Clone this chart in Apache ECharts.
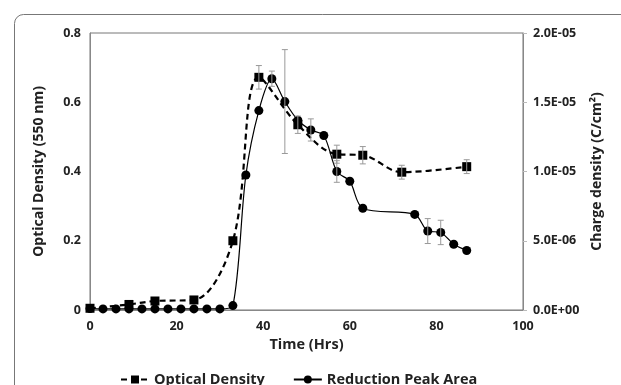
<!DOCTYPE html>
<html>
<head>
<meta charset="utf-8">
<script src="https://cdn.jsdelivr.net/npm/echarts@6/dist/echarts.min.js"></script>
<style>
  html, body { margin: 0; padding: 0; background: #fff; }
  #chart { width: 621px; height: 385px; }
</style>
</head>
<body>
<div id="chart"></div>
<script>
// optical density (squares, dashed)
const odHours = [0, 9, 15, 24, 33, 39, 48, 57, 63, 72, 87]
const odValues = [0.005, 0.016, 0.026, 0.029, 0.2, 0.672, 0.535, 0.45, 0.447, 0.398, 0.414]
const odErrors = [0, 0, 0, 0, 0, 0.034, 0.025, 0.026, 0.025, 0.02, 0.02]

// reduction peak area, charge density in C/cm2 (circles, solid)
const rpHours = [0, 3, 6, 9, 12, 15, 18, 21, 24, 27, 30, 33, 36, 39, 42, 45, 48, 51, 54, 57, 60, 63, 75, 78, 81, 84, 87]
const rpValues = [
  1.0e-7, 0.8e-7, 0.8e-7, 0.8e-7, 0.8e-7, 0.8e-7, 0.8e-7, 0.8e-7, 0.8e-7, 0.8e-7, 0.8e-7,
  3.2e-7, 9.75e-6, 1.44e-5, 1.67e-5, 1.505e-5, 1.37e-5, 1.3e-5, 1.26e-5, 1.0e-5, 9.3e-6,
  7.35e-6, 6.9e-6, 5.7e-6, 5.6e-6, 4.75e-6, 4.3e-6,
]
const rpErrors = [
  0, 0, 0, 0, 0, 0, 0, 0, 0, 0, 0,
  0, 0, 0, 5.5e-7, 3.75e-6, 0, 8e-7, 0, 7.8e-7, 0,
  0, 0, 9e-7, 8.8e-7, 0, 0,
]

const xTicks = { min: 0, max: 100, interval: 20 }
const odTicks = { min: 0, max: 0.8, interval: 0.2 }
const rpTicks = { min: 0, max: 2e-5, interval: 5e-6 }

const FONT = "'Open Sans', 'Noto Sans', sans-serif"
const labelStyle = { fontFamily: FONT, fontWeight: "bold", fontSize: 12.5, color: "#222" }

function sci(v) {
  const s = Number(v).toExponential(1).toUpperCase()
  const [m, e] = s.split("E")
  const sign = e[0] === "-" ? "-" : "+"
  const digits = e.replace(/[+-]/, "").padStart(2, "0")
  return `${m}E${sign}${digits}`
}

function errorBars(xs, ys, es) {
  return xs.map((x, i) => [x, ys[i], es[i]]).filter((d) => d[2] > 0)
}

function renderError(params, api) {
  const x = api.value(0)
  const y = api.value(1)
  const e = api.value(2)
  const top = api.coord([x, y + e])
  const bot = api.coord([x, y - e])
  const w = 3
  const style = { stroke: "#999", lineWidth: 1 }
  return {
    type: "group",
    children: [
      { type: "line", shape: { x1: top[0], y1: top[1], x2: bot[0], y2: bot[1] }, style },
      { type: "line", shape: { x1: top[0] - w, y1: top[1], x2: top[0] + w, y2: top[1] }, style },
      { type: "line", shape: { x1: bot[0] - w, y1: bot[1], x2: bot[0] + w, y2: bot[1] }, style },
    ],
  }
}

const chart = echarts.init(document.getElementById("chart"), null, { renderer: "canvas" })

chart.setOption({
  animation: false,
  backgroundColor: "#fff",
  graphic: [
    {
      type: "rect",
      left: 12,
      top: 12,
      shape: { width: 700, height: 420, r: 9 },
      style: { fill: "none", stroke: "#777", lineWidth: 1 },
      silent: true,
    },
  ],
  grid: { left: 90, right: 98, top: 33, bottom: 75, show: true, borderColor: "#777", borderWidth: 1 },
  legend: {
    top: 367,
    left: 115,
    itemWidth: 28,
    itemHeight: 10,
    itemGap: 28,
    textStyle: { fontFamily: FONT, fontWeight: "bold", fontSize: 14.5, color: "#222" },
    data: ["Optical Density", "Reduction Peak Area"],
  },
  xAxis: {
    type: "value",
    ...xTicks,
    name: "Time (Hrs)",
    nameLocation: "middle",
    nameGap: 27,
    nameMoveOverlap: false,
    nameTextStyle: { fontFamily: FONT, fontWeight: "bold", fontSize: 14.5, color: "#222" },
    axisLine: { lineStyle: { color: "#888" } },
    axisTick: { show: false },
    splitLine: { show: false },
    axisLabel: { ...labelStyle, margin: 10 },
  },
  yAxis: [
    {
      type: "value",
      ...odTicks,
      name: "Optical Density (550 nm)",
      nameLocation: "middle",
      nameGap: 44,
      nameTextStyle: { fontFamily: FONT, fontWeight: "bold", fontSize: 14, color: "#222" },
      axisLine: { show: true, lineStyle: { color: "#888" } },
      axisTick: { show: false },
      splitLine: { show: false },
      axisLabel: { ...labelStyle, margin: 9 },
    },
    {
      type: "value",
      position: "right",
      ...rpTicks,
      name: "Charge density (C/cm²)",
      nameLocation: "middle",
      nameRotate: 90,
      nameGap: 61,
      nameTextStyle: { fontFamily: FONT, fontWeight: "bold", fontSize: 14, color: "#222" },
      axisLine: { show: true, lineStyle: { color: "#888" } },
      axisTick: { show: true, length: 4, lineStyle: { color: "#bbb" } },
      splitLine: { show: false },
      axisLabel: { ...labelStyle, margin: 10, formatter: sci },
    },
  ],
  series: [
    {
      name: "Optical Density",
      type: "line",
      yAxisIndex: 0,
      smooth: 0.35,
      data: odHours.map((h, i) => [h, odValues[i]]),
      symbol: "rect",
      symbolSize: 9,
      lineStyle: { color: "#000", width: 2.2, type: [6, 4] },
      itemStyle: { color: "#000" },
      z: 3,
    },
    {
      name: "Reduction Peak Area",
      type: "line",
      yAxisIndex: 1,
      smooth: 0.3,
      data: rpHours.map((h, i) => [h, rpValues[i]]),
      symbol: "circle",
      symbolSize: 9,
      lineStyle: { color: "#000", width: 1.2 },
      itemStyle: { color: "#000" },
      z: 3,
    },
    {
      type: "custom",
      yAxisIndex: 0,
      renderItem: renderError,
      data: errorBars(odHours, odValues, odErrors),
      z: 4,
      silent: true,
    },
    {
      type: "custom",
      yAxisIndex: 1,
      renderItem: renderError,
      data: errorBars(rpHours, rpValues, rpErrors),
      z: 4,
      silent: true,
    },
  ],
})
</script>
</body>
</html>
